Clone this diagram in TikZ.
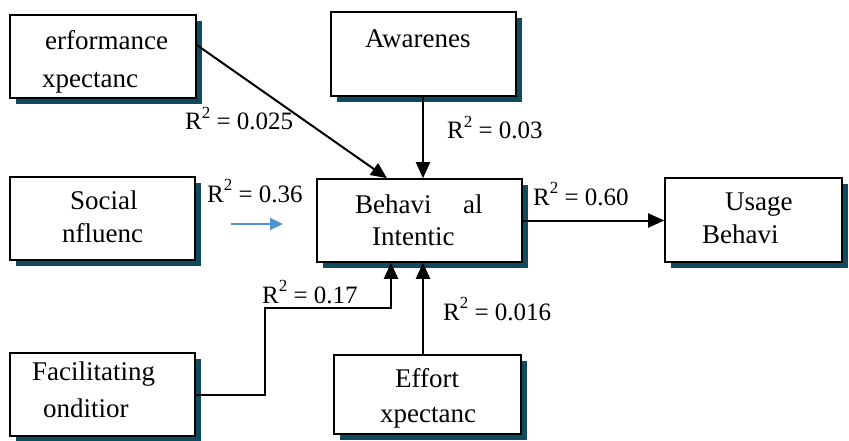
\documentclass[tikz,border=0pt]{standalone}
\usepackage{fontspec}
\setmainfont{Liberation Serif}
\usetikzlibrary{arrows.meta,shadows}
\definecolor{shadowteal}{RGB}{16,74,94}
\definecolor{bluearr}{RGB}{78,148,208}
\tikzset{
  boxnode/.style={draw=black, line width=1.6pt, fill=white, rectangle, inner sep=0pt,
    drop shadow={shadow xshift=6pt, shadow yshift=-6pt, fill=shadowteal, opacity=1}},
  boxtext/.style={anchor=base west, inner sep=0pt, font=\fontsize{27}{32}\selectfont},
  rlabel/.style={anchor=base west, inner sep=0pt, font=\fontsize{25}{30}\selectfont},
  arr/.style={line width=2pt, -{Triangle[length=16pt,width=14pt]}},
  bluearrow/.style={draw=bluearr, line width=2pt, -{Triangle[length=13pt,width=12pt]}}
}
\newcommand{\rsq}{R\raisebox{0.45em}{\fontsize{17}{17}\selectfont 2}}
\begin{document}
\begin{tikzpicture}[x=1pt,y=-1pt]
\useasboundingbox (0,0) rectangle (849,441);
% boxes
\node[boxnode, minimum width=186pt, minimum height=83pt] (perf) at (103,56.5) {};
\node[boxnode, minimum width=185pt, minimum height=84pt] (aware) at (423.5,54) {};
\node[boxnode, minimum width=185pt, minimum height=83pt] (social) at (102.5,218.5) {};
\node[boxnode, minimum width=205pt, minimum height=83pt] (behav) at (419.5,220.5) {};
\node[boxnode, minimum width=177pt, minimum height=84pt] (usage) at (753.5,220) {};
\node[boxnode, minimum width=185pt, minimum height=83pt] (facil) at (102.5,394.5) {};
\node[boxnode, minimum width=187pt, minimum height=79pt] (effort) at (427.5,394.5) {};
% box texts
\node[boxtext] (perf1) at (45,50) {erformance};
\node[boxtext] (perf2) at (42,88) {xpectanc};
\node[boxtext] (aware1) at (365,48) {Awarenes};
\node[boxtext] (social1) at (70,209) {Social};
\node[boxtext] (social2) at (62,242) {nfluenc};
\node[boxtext] (behav1) at (355,213) {Behavi};
\node[boxtext] (behav1b) at (463,213) {al};
\node[boxtext] (behav2) at (372,245) {Intentic};
\node[boxtext] (usage1) at (725,210) {Usage};
\node[boxtext] (usage2) at (702,243) {Behavi};
\node[boxtext] (facil1) at (32,380) {Facilitating};
\node[boxtext] (facil2) at (43,417) {onditior};
\node[boxtext] (effort1) at (395,387) {Effort};
\node[boxtext] (effort2) at (380,422) {xpectanc};
% helper coordinates
\coordinate (xA) at (423,0);
\coordinate (xP) at (387,0);
\coordinate (kneeF) at (265,308);
\coordinate (xF) at (391,0);
\coordinate (b1) at (231,224);
\coordinate (b2) at (283,224);
% connectors
\draw[arr] ([yshift=11.5pt]perf.east) -- (behav.north -| xP);
\draw[arr] (aware.south -| xA) -- (behav.north -| xA);
\draw[arr] (behav.east) -- (usage.west |- behav.east);
\draw[arr] (facil.east) -| (kneeF) -| (behav.south -| xF);
\draw[arr] (effort.north -| xA) -- (behav.south -| xA);
\draw[bluearrow] (b1) -- (b2);
% labels
\node[rlabel] (l1) at (185,130) {\rsq{} = 0.025};
\node[rlabel] (l2) at (447,139) {\rsq{} = 0.03};
\node[rlabel] (l3) at (207,202) {\rsq{} = 0.36};
\node[rlabel] (l4) at (533,205) {\rsq{} = 0.60};
\node[rlabel] (l5) at (262,303) {\rsq{} = 0.17};
\node[rlabel] (l6) at (443,320) {\rsq{} = 0.016};
\end{tikzpicture}
\end{document}
